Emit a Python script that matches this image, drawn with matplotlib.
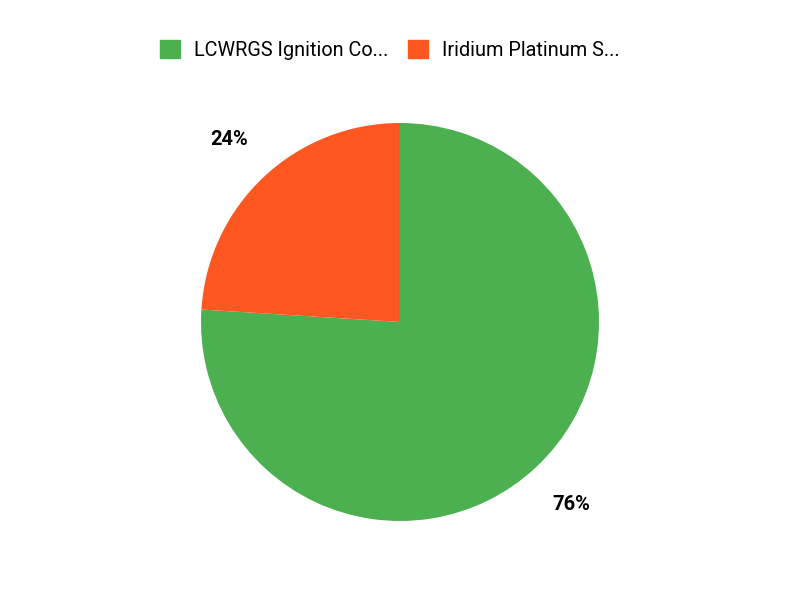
import matplotlib
matplotlib.use("Agg")
import matplotlib.pyplot as plt
from matplotlib.patches import Patch

plt.rcParams['font.family'] = ['Roboto', 'DejaVu Sans']

labels = ["LCWRGS Ignition Co...", "Iridium Platinum S..."]
shares = [76, 24]
colors = ["#4CAF50", "#FF5722"]

fig = plt.figure(figsize=(8, 6), dpi=100)
ax = fig.add_axes([0.25125, 0.1317, 0.4975, 0.6633])

wedges, texts, pcts = ax.pie(shares, colors=colors, startangle=90, counterclock=False,
                             autopct='%1.0f%%', pctdistance=1.255,
                             wedgeprops=dict(linewidth=0))
for t in pcts:
    t.set_fontsize(14.5)
    t.set_fontweight('bold')
ax.set_xlim(-1, 1)
ax.set_ylim(-1, 1)

handles = [Patch(color=c, label=l) for c, l in zip(colors, labels)]
fig.legend(handles=handles, loc='center', bbox_to_anchor=(0.4875, 0.917), ncol=2,
           frameon=False, fontsize=14.3, handlelength=1.0, handleheight=1.0,
           columnspacing=1.0, handletextpad=0.7)

fig.savefig("out.png", dpi=100)
